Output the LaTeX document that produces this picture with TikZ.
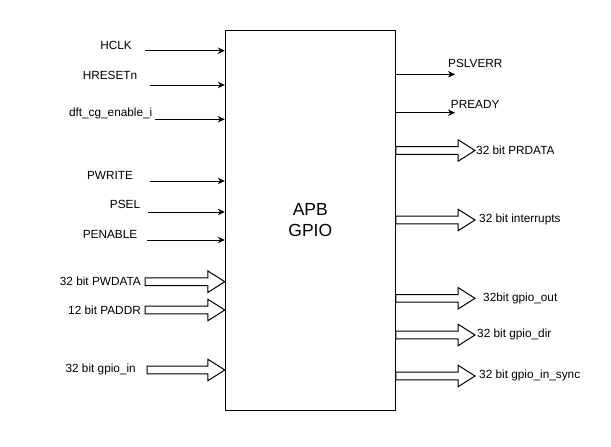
\documentclass[tikz,border=0pt]{standalone}
\usepackage{fontspec}
\setmainfont{Liberation Sans}
\usetikzlibrary{arrows.meta,calc}

\tikzset{
    sig/.style={line width=1pt,-{Stealth[length=7pt,width=6.5pt]}},
    bus/.style={line width=1pt,fill=white},
    lbl/.style={font=\fontsize{11.8}{14}\selectfont,inner sep=0pt}
}
% wide arrow from #1 to the point #2 (same height)
\newcommand{\busarrow}[2]{%
    \draw[bus] let \p1=(#1), \p2=(#2) in
        (\x1,\y1+3.8pt) -- (\x2-17pt,\y1+3.8pt) -- (\x2-17pt,\y1+10.8pt) -- (\x2,\y1)
        -- (\x2-17pt,\y1-10.8pt) -- (\x2-17pt,\y1-3.8pt) -- (\x1,\y1-3.8pt) -- cycle;}

\begin{document}
\begin{tikzpicture}[x=1pt,y=-1pt]
        \useasboundingbox (0,0) rectangle (611,447);
        %% Block
        \node[draw,line width=1pt,rectangle,minimum width=170pt,minimum height=380pt,anchor=center,
              align=center,font=\fontsize{17.5}{21}\selectfont] (gpio) at (310.3,220.3) {APB\\GPIO};
        %% Inputs
        \coordinate (hclk) at (145,50.7);
        \coordinate (hrst) at (150,85);
        \coordinate (dft) at (155,119.3);
        \coordinate (pwrite) at (150,181);
        \coordinate (psel) at (148,212);
        \coordinate (penable) at (147,240);
        \draw[sig] (hclk) -- (hclk -| gpio.west);
        \draw[sig] (hrst) -- (hrst -| gpio.west);
        \draw[sig] (dft) -- (dft -| gpio.west);
        \draw[sig] (pwrite) -- (pwrite -| gpio.west);
        \draw[sig] (psel) -- (psel -| gpio.west);
        \draw[sig] (penable) -- (penable -| gpio.west);
        \node[lbl] (hclkl) at (116,45) {HCLK};
        \node[lbl] (hrstl) at (110,75) {HRESETn};
        \node[lbl] (dftl) at (110.7,113) {dft\_cg\_enable\_i};
        \node[lbl] (pwritel) at (110,175) {PWRITE};
        \node[lbl] (psell) at (125,204) {PSEL};
        \node[lbl] (penablel) at (110,234) {PENABLE};
        %% Input busses
        \coordinate (pwdata) at (145,281.7);
        \coordinate (paddr) at (145,310);
        \coordinate (gpioin) at (147,370);
        \busarrow{pwdata}{pwdata -| gpio.west}
        \busarrow{paddr}{paddr -| gpio.west}
        \busarrow{gpioin}{gpioin -| gpio.west}
        \node[lbl,anchor=east] (pwdatal) at (141,281) {32 bit PWDATA};
        \node[lbl,anchor=east] (paddrl) at (141,310) {12 bit PADDR};
        \node[lbl,anchor=east] (gpioinl) at (136,369) {32 bit gpio\_in};
        %% Outputs
        \coordinate (pslverr) at (455,74.3);
        \coordinate (pready) at (455,112.7);
        \draw[sig] (pslverr -| gpio.east) -- (pslverr);
        \draw[sig] (pready -| gpio.east) -- (pready);
        \node[lbl,anchor=west] (pslverrl) at (448,63) {PSLVERR};
        \node[lbl,anchor=west] (preadyl) at (450.7,104) {PREADY};
        %% Output busses
        \coordinate (prdata) at (475,150.5);
        \coordinate (irq) at (475,220);
        \coordinate (gpioout) at (475,298.3);
        \coordinate (gpiodir) at (475,335);
        \coordinate (gpiosync) at (475,376);
        \busarrow{prdata -| gpio.east}{prdata}
        \busarrow{irq -| gpio.east}{irq}
        \busarrow{gpioout -| gpio.east}{gpioout}
        \busarrow{gpiodir -| gpio.east}{gpiodir}
        \busarrow{gpiosync -| gpio.east}{gpiosync}
        \node[lbl,anchor=west] (prdatal) at (476,150) {32 bit PRDATA};
        \node[lbl,anchor=west] (irql) at (479,219) {32 bit interrupts};
        \node[lbl,anchor=west] (gpiooutl) at (483,298) {32bit gpio\_out};
        \node[lbl,anchor=west] (gpiodirl) at (477,334) {32 bit gpio\_dir};
        \node[lbl,anchor=west] (gpiosyncl) at (479,375) {32 bit gpio\_in\_sync};
    \end{tikzpicture}
\end{document}
